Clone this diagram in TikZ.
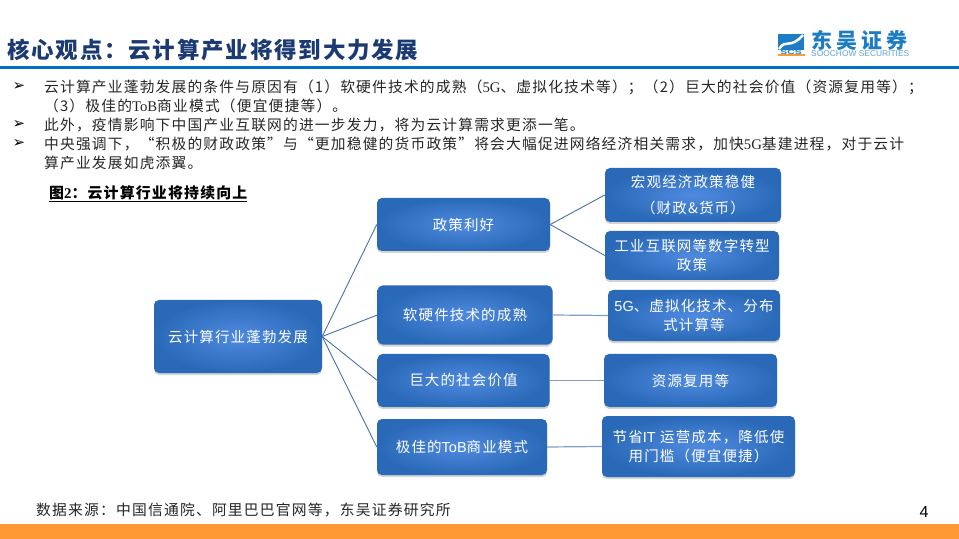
\documentclass[tikz,border=0pt]{standalone}
\usepackage{fontspec}
\setmainfont[LetterSpace=8]{Noto Sans CJK SC}
\newfontfamily\symb{DejaVu Sans}
\newfontfamily\latinserif{Liberation Serif}
\newfontfamily\latinsans{Liberation Sans}
\newfontfamily\logocjk[LetterSpace=20]{Noto Sans CJK SC}
\usetikzlibrary{shadows}
\definecolor{ruleblue}{HTML}{0070C0}
\definecolor{barorange}{HTML}{FF9933}
\definecolor{titlenavy}{HTML}{1B3A73}
\definecolor{boxlight}{HTML}{4F8ADF}
\definecolor{boxdark}{HTML}{2A69B8}
\definecolor{linkblue}{HTML}{4A70A8}
\definecolor{linklight}{HTML}{7F9FCB}
\definecolor{logoblue}{HTML}{1C7CC4}
\tikzset{
	bluebox/.style={rounded corners=5bp, inner color=boxlight, outer color=boxdark, text=white, inner sep=0pt, align=center,
		font=\fontsize{14.5bp}{19bp}\selectfont,
		drop shadow={shadow xshift=0bp, shadow yshift=-2bp, opacity=0.35}},
	linkline/.style={draw=linkblue, line width=0.9bp},
	linkflat/.style={draw=linklight, line width=1.2bp},
	bodyline/.style={anchor=west, inner sep=0pt, text=black!85, font=\fontsize{14.75bp}{16bp}\selectfont},
	bullet/.style={anchor=center, inner sep=0pt, text=black, font=\symb\fontsize{15bp}{16bp}\selectfont}
}
\begin{document}
\begin{tikzpicture}[x=1bp, y=-1bp]
	%%%%% START %%%%%
	\useasboundingbox (0, 0) rectangle (959, 539);
	
	\fill[ruleblue] (0, 66) rectangle (959, 69);
	\fill[barorange] (0, 524) rectangle (959, 539);
	
	\node[anchor=west, inner sep=0pt, text=titlenavy, font=\bfseries\fontsize{22.5bp}{24bp}\selectfont] (title) at (7, 50) {核心观点：云计算产业将得到大力发展};
	
	% logo
	\fill[logoblue] (777.5, 34) rectangle (804, 50);
	\draw[white, line width=2.5bp] (779, 49) .. controls (786, 38) and (790, 50) .. (803, 35);
	\fill[barorange] (777.5, 54.5) rectangle (804.5, 56);
	\node[inner sep=0pt, text=logoblue, xscale=1.6, font=\latinsans\bfseries\fontsize{6.5bp}{7bp}\selectfont] (logoscs) at (791, 52) {SCS};
	\node[anchor=west, inner sep=0pt, text=logoblue, font=\logocjk\bfseries\fontsize{21bp}{22bp}\selectfont] (logoname) at (811, 40.5) {东吴证券};
	\node[anchor=west, inner sep=0pt, text=logoblue!70, font=\latinsans\fontsize{8.4bp}{9bp}\selectfont] (logoeng) at (811, 53.5) {SOOCHOW SECURITIES};
	
	% bullets
	\node[bullet] (bulletone) at (19, 87) {➢};
	\node[bullet] (bullettwo) at (19, 125) {➢};
	\node[bullet] (bulletthree) at (19, 144) {➢};
	
	\node[bodyline] (lineone) at (44, 87) {云计算产业蓬勃发展的条件与原因有（1）软硬件技术的成熟（{\latinserif 5G}、虚拟化技术等）；（2）巨大的社会价值（资源复用等）；};
	\node[bodyline] (linetwo) at (44, 106) {（3）极佳的{\latinserif ToB}商业模式（便宜便捷等）。};
	\node[bodyline] (linethree) at (44, 125) {此外，疫情影响下中国产业互联网的进一步发力，将为云计算需求更添一笔。};
	\node[bodyline] (linefour) at (44, 144) {中央强调下，“积极的财政政策”与“更加稳健的货币政策”将会大幅促进网络经济相关需求，加快{\latinserif 5G}基建进程，对于云计};
	\node[bodyline] (linefive) at (44, 163) {算产业发展如虎添翼。};
	
	\node[anchor=west, inner sep=0pt, text=black, font=\bfseries\fontsize{14.9bp}{16bp}\selectfont] (caption) at (49, 194) {\underline{图{\latinserif 2}：云计算行业将持续向上}};
	
	% left column
	\node[bluebox, minimum width=168bp, minimum height=73bp] (cloud) at (238, 336.5) {云计算行业蓬勃发展};
	
	% middle column
	\node[bluebox, minimum width=173bp, minimum height=53bp] (policy) at (463.5, 224.5) {政策利好};
	\node[bluebox, minimum width=175bp, minimum height=59bp] (tech) at (465, 315) {软硬件技术的成熟};
	\node[bluebox, minimum width=172bp, minimum height=53bp] (social) at (463.5, 380.5) {巨大的社会价值};
	\node[bluebox, minimum width=170bp, minimum height=56bp] (tob) at (462, 447) {极佳的{\latinsans ToB}商业模式};
	
	% right column
	\node[bluebox, minimum width=176bp, minimum height=54bp, font=\fontsize{14.5bp}{26bp}\selectfont] (macro) at (693, 195) {宏观经济政策稳健\\（财政\&货币）};
	\node[bluebox, minimum width=174bp, minimum height=49bp] (digital) at (692, 255.5) {工业互联网等数字转型\\政策};
	\node[bluebox, minimum width=172bp, minimum height=51bp] (virtual) at (694, 315.5) {{\latinsans 5G}、虚拟化技术、分布\\式计算等};
	\node[bluebox, minimum width=173bp, minimum height=53bp] (reuse) at (690.5, 380.5) {资源复用等};
	\node[bluebox, minimum width=193bp, minimum height=61bp] (cost) at (698.5, 446.5) {节省{\latinsans IT} 运营成本，降低使\\用门槛（便宜便捷）};
	
	\draw[linkline] (cloud.east) -- (policy.west);
	\draw[linkline] (cloud.east) -- (tech.west);
	\draw[linkline] (cloud.east) -- (social.west);
	\draw[linkline] (cloud.east) -- (tob.west);
	\draw[linkline] (policy.east) -- (macro.west);
	\draw[linkline] (policy.east) -- (digital.west);
	\draw[linkflat] (tech.east) -- (virtual.west);
	\draw[linkflat] (social.east) -- (reuse.west);
	\draw[linkflat] (tob.east) -- (cost.west);
	
	\node[anchor=west, inner sep=0pt, text=black!85, font=\fontsize{14.8bp}{16bp}\selectfont] (source) at (36, 510) {数据来源：中国信通院、阿里巴巴官网等，东吴证券研究所};
	\node[inner sep=0pt, text=black, font=\latinsans\fontsize{16bp}{18bp}\selectfont] (pagenum) at (924, 512) {4};
	%%%%% END %%%%%
\end{tikzpicture}
\end{document}
